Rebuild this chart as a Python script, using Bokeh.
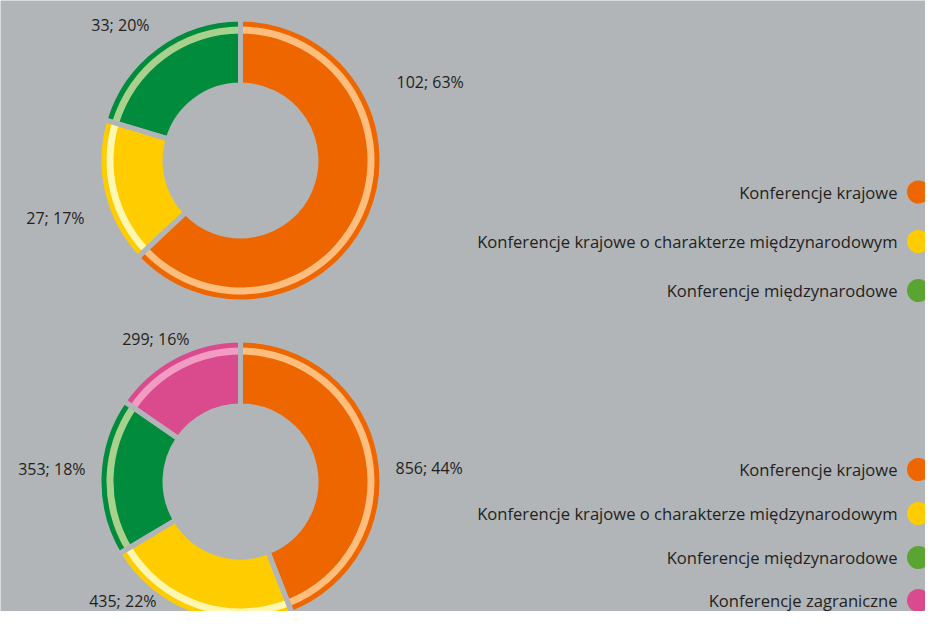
import numpy as np
from bokeh.plotting import figure
from bokeh.models import Range1d, ColumnDataSource
from bokeh.core.properties import value
from bokeh.embed import file_html
from bokeh.resources import INLINE

# ---- data ----
top_categories = ["Konferencje krajowe",
                  "Konferencje krajowe o charakterze międzynarodowym",
                  "Konferencje międzynarodowe"]
top_values = [102, 27, 33]
top_pcts = [63, 17, 20]

bottom_categories = ["Konferencje krajowe",
                     "Konferencje krajowe o charakterze międzynarodowym",
                     "Konferencje międzynarodowe",
                     "Konferencje zagraniczne"]
bottom_values = [856, 435, 353, 299]
bottom_pcts = [44, 22, 18, 16]

# ---- styles ----
BG = "#B1B5B8"
TXT = "#231F20"
FONT = "Open Sans"
main_colors = ["#EE6600", "#FFCC00", "#008C3C", "#D94B8C"]
light_colors = ["#FFBE7D", "#FFF6B0", "#A8D18D", "#F29CC4"]
dot_colors = ["#EE6600", "#FFCC00", "#5AA532", "#D94B8C"]

# layout (screen pixels, y downward -> plotted as negative)
W, H = 925, 611
top_center = (240, 160)
bottom_center = (240, 481)
R_IN, R_OUT = 78, 139
STRIPE_IN, STRIPE_OUT = 127, 134
GAP = 5
top_label_pos = [(396, 81, "left"), (84, 217, "right"), (149, 24, "right")]
bottom_label_pos = [(395, 467, "left"), (156, 600, "right"), (85, 468, "right"), (189, 338, "right")]
top_legend_y = [191.5, 241, 290]
bottom_legend_y = [469, 513, 557, 600]
LEGEND_TEXT_X = 897
LEGEND_DOT_X = 918
LABEL_SIZE = "16px"
LEGEND_SIZE = "16.6px"

p = figure(width=W, height=H, x_range=Range1d(0, W), y_range=Range1d(-H, 0),
           output_backend="svg", toolbar_location=None, min_border=0)
p.axis.visible = False
p.grid.visible = False
p.outline_line_color = None
p.background_fill_color = BG
p.border_fill_color = BG


def donut(center, values, pcts, label_pos, legend_y, categories):
    n = len(values)
    v = np.array(values, dtype=float)
    frac = v / v.sum()
    ends = np.pi / 2 - 2 * np.pi * np.cumsum(frac)
    starts = ends + 2 * np.pi * frac
    cx, cy = center
    src = ColumnDataSource(dict(
        start=ends, end=starts,
        main=main_colors[:n], light=light_colors[:n],
    ))
    half = GAP / 2
    p.annular_wedge(x=cx, y=-cy, inner_radius=R_IN - half, outer_radius=R_OUT + half,
                    start_angle="start", end_angle="end", fill_color="main",
                    line_color=None, source=src)
    p.annular_wedge(x=cx, y=-cy, inner_radius=STRIPE_IN, outer_radius=STRIPE_OUT,
                    start_angle="start", end_angle="end", fill_color="light",
                    line_color=None, source=src)
    p.annular_wedge(x=cx, y=-cy, inner_radius=R_IN - half, outer_radius=R_OUT + half,
                    start_angle="start", end_angle="end", fill_color=None,
                    line_color=BG, line_width=GAP, source=src)

    labels = [f"{val}; {pc}%" for val, pc in zip(values, pcts)]
    for lab, (lx, ly, al) in zip(labels, label_pos):
        p.text(x=[lx], y=[-ly], text=[lab], text_align=al, text_baseline="middle",
               text_font=value(FONT), text_font_size=LABEL_SIZE, text_color=TXT)

    p.text(x=[LEGEND_TEXT_X] * n, y=[-y for y in legend_y], text=categories,
           text_align="right", text_baseline="middle",
           text_font=value(FONT), text_font_size=LEGEND_SIZE, text_color=TXT)
    p.scatter(x=[LEGEND_DOT_X] * n, y=[-y for y in legend_y], size=23,
              color=dot_colors[:n], line_color=None)


donut(top_center, top_values, top_pcts, top_label_pos, top_legend_y, top_categories)
donut(bottom_center, bottom_values, bottom_pcts, bottom_label_pos, bottom_legend_y, bottom_categories)

open("out.html", "w").write(file_html(p, INLINE))
